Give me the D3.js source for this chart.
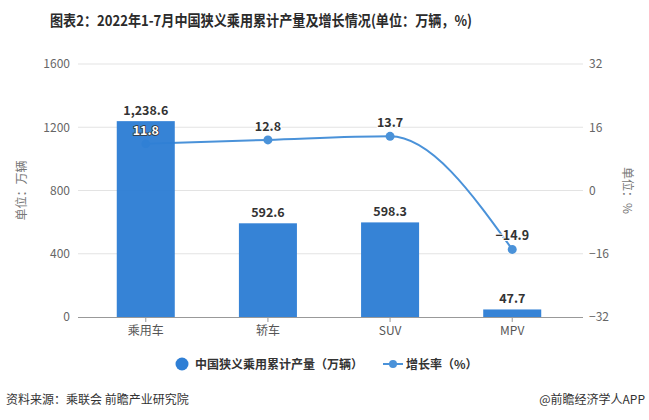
<!DOCTYPE html>
<html><head><meta charset="utf-8">
<script src="https://cdn.jsdelivr.net/npm/d3@7"></script>
<style>body{margin:0;background:#fff}svg{display:block}</style>
</head><body>
<svg id="c" width="649" height="420"></svg>
<script>
const categories = ["乘用车", "轿车", "SUV", "MPV"];
const production = [1238.6, 592.6, 598.3, 47.7];
const growth = [11.8, 12.8, 13.7, -14.9];
const leftTicks = [0, 400, 800, 1200, 1600];
const rightTicks = [-32, -16, 0, 16, 32];

const svg = d3.select("#c");
const FONT = "'Microsoft YaHei','Noto Sans CJK SC','Noto Sans',sans-serif";
const barColor = "#2f7fd5", lineColor = "#4a92d9";
const plotL = 78, plotR = 583, plotTop = 64, plotBottom = 317;

const x = d3.scaleBand().domain(categories).range([85, 573]).paddingInner(0.525).paddingOuter(0.26);
const xc = d => x(d) + x.bandwidth() / 2;
const yL = d3.scaleLinear().domain([0, 1600]).range([plotBottom, plotTop]);
const yR = d3.scaleLinear().domain([-32, 32]).range([plotBottom, plotTop]);

// title
svg.append("text").attr("x", 50).attr("y", 26).attr("font-family", FONT)
  .attr("font-size", 15).attr("font-weight", "bold").attr("fill", "#2b2b2b")
  .attr("textLength", 422).attr("lengthAdjust", "spacingAndGlyphs")
  .text("图表2：2022年1-7月中国狭义乘用累计产量及增长情况(单位：万辆，%)");

// grid
svg.append("g").selectAll("line").data(leftTicks.filter(t => t > 0)).join("line")
  .attr("x1", plotL).attr("x2", plotR).attr("y1", d => yL(d)).attr("y2", d => yL(d))
  .attr("stroke", "#e3e3e3").attr("stroke-width", 1);

// left axis
const gl = svg.append("g").attr("transform", `translate(${plotL},0)`)
  .call(d3.axisLeft(yL).tickValues(leftTicks).tickSize(0).tickPadding(8).tickFormat(d3.format("d")));
gl.select(".domain").remove();
gl.selectAll("text").attr("font-family", FONT).attr("font-size", 12).attr("fill", "#666");

// right axis
const gr = svg.append("g").attr("transform", `translate(${plotR},0)`)
  .call(d3.axisRight(yR).tickValues(rightTicks).tickSize(0).tickPadding(6).tickFormat(d3.format("d")));
gr.select(".domain").remove();
gr.selectAll("text").attr("font-family", FONT).attr("font-size", 12).attr("fill", "#666");

// axis titles
svg.append("text").attr("transform", `translate(26,${(plotTop + plotBottom) / 2}) rotate(-90)`)
  .attr("text-anchor", "middle").attr("font-family", FONT).attr("font-size", 12).attr("fill", "#777")
  .text("单位：万辆");
svg.append("text").attr("transform", `translate(623,${(plotTop + plotBottom) / 2}) rotate(90)`)
  .attr("text-anchor", "middle").attr("font-family", FONT).attr("font-size", 12).attr("fill", "#777")
  .text("单位：%");

// line (drawn beneath bars)
const pts = categories.map((c, i) => [xc(c), yR(growth[i])]);
svg.append("path").attr("d", d3.line().curve(d3.curveMonotoneX)(pts))
  .attr("fill", "none").attr("stroke", lineColor).attr("stroke-width", 2);
svg.append("g").selectAll("circle").data(pts).join("circle")
  .attr("cx", d => d[0]).attr("cy", d => d[1]).attr("r", 4.5).attr("fill", lineColor);

// bars
svg.append("g").selectAll("rect").data(production).join("rect")
  .attr("x", (d, i) => x(categories[i])).attr("width", x.bandwidth())
  .attr("y", d => yL(d)).attr("height", d => plotBottom - yL(d))
  .attr("fill", barColor).attr("opacity", 0.97);

// x axis
const gx = svg.append("g").attr("transform", `translate(0,${plotBottom})`)
  .call(d3.axisBottom(x).tickSize(5).tickPadding(4));
gx.select(".domain").attr("d", `M${plotL},0.5H${plotR}`).attr("stroke", "#999");
gx.selectAll(".tick line").attr("stroke", "#999");
gx.selectAll("text").attr("font-family", FONT).attr("font-size", 12).attr("fill", "#555");

// bar labels
const fmt = d3.format(",.1f");
svg.append("g").selectAll("text").data(production).join("text")
  .attr("x", (d, i) => xc(categories[i])).attr("y", d => yL(d) - 6)
  .attr("text-anchor", "middle").attr("font-family", FONT).attr("font-size", 12.5)
  .attr("font-weight", "bold").attr("fill", "#333").text(d => fmt(d));

// line labels
svg.append("g").selectAll("text").data(growth).join("text")
  .attr("x", (d, i) => pts[i][0]).attr("y", (d, i) => pts[i][1] - 9)
  .attr("text-anchor", "middle").attr("font-family", FONT).attr("font-size", 12.5)
  .attr("font-weight", "bold")
  .each(function (d, i) {
    const onBar = pts[i][1] - 9 > yL(production[i]);
    const s = d3.select(this);
    if (onBar) s.attr("fill", "#fff").attr("stroke", "#333").attr("stroke-width", 1.6).attr("paint-order", "stroke");
    else s.attr("fill", "#333").attr("stroke", "#fff").attr("stroke-width", 2).attr("paint-order", "stroke");
  })
  .text(d => d3.format(".1f")(d).replace("-", "−"));

// legend
const lg = svg.append("g");
lg.append("circle").attr("cx", 182).attr("cy", 364).attr("r", 6.5).attr("fill", barColor);
lg.append("text").attr("x", 195).attr("y", 368.5).attr("font-family", FONT).attr("font-size", 12)
  .attr("font-weight", "bold").attr("fill", "#333").text("中国狭义乘用累计产量（万辆）");
lg.append("line").attr("x1", 383).attr("x2", 403).attr("y1", 364).attr("y2", 364)
  .attr("stroke", lineColor).attr("stroke-width", 2);
lg.append("circle").attr("cx", 393).attr("cy", 364).attr("r", 4).attr("fill", lineColor);
lg.append("text").attr("x", 406).attr("y", 368.5).attr("font-family", FONT).attr("font-size", 12)
  .attr("font-weight", "bold").attr("fill", "#333").text("增长率（%）");

// footer
svg.append("text").attr("x", 6).attr("y", 404).attr("font-family", FONT).attr("font-size", 12)
  .attr("fill", "#333").text("资料来源：乘联会 前瞻产业研究院");
svg.append("text").attr("x", 645).attr("y", 404).attr("text-anchor", "end").attr("font-family", FONT)
  .attr("font-size", 12).attr("fill", "#333").text("@前瞻经济学人APP");
</script>
</body></html>
